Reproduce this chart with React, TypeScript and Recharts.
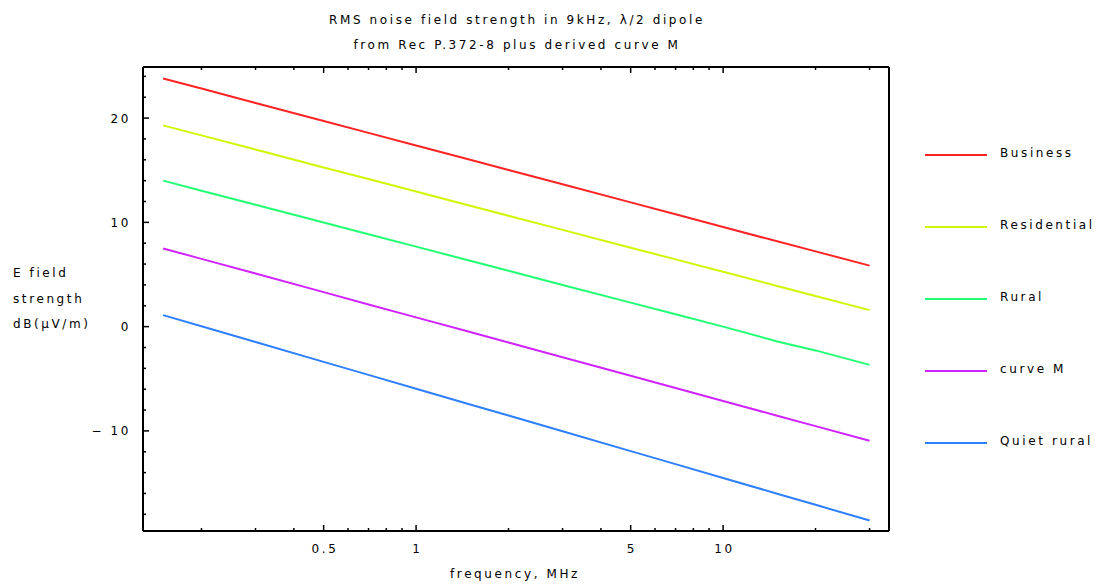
import React from "react";
import { LineChart, Line, XAxis, YAxis } from "recharts";

const frequencies = [0.15, 0.2, 0.3, 0.5, 0.7, 1, 1.5, 2, 3, 5, 7, 10, 15, 20, 30];
const business = [23.8, 22.83, 21.45, 19.72, 18.58, 17.37, 16.0, 15.03, 13.65, 11.92, 10.78, 9.55, 8.18, 7.22, 5.85];
const residential = [19.3, 18.34, 16.98, 15.27, 14.15, 12.96, 11.6, 10.64, 9.28, 7.57, 6.45, 5.26, 3.9, 2.94, 1.58];
const rural = [14.0, 13.04, 11.69, 9.98, 8.86, 7.67, 6.32, 5.36, 4.0, 2.3, 1.18, 0.0, -1.42, -2.28, -3.67];
const curveM = [7.5, 6.5, 5.09, 3.31, 2.13, 0.89, -0.52, -1.52, -2.93, -4.71, -5.89, -7.13, -8.54, -9.54, -10.95];
const quietRural = [1.1, 0.03, -1.48, -3.38, -4.63, -5.95, -7.46, -8.53, -10.04, -11.94, -13.19, -14.51, -16.02, -17.09, -18.6];

const xTicks = [0.2, 0.3, 0.4, 0.5, 0.6, 0.7, 0.8, 0.9, 1, 2, 3, 4, 5, 6, 7, 8, 9, 10, 20, 30];
const xMajor = [0.5, 1, 5, 10];
const yTicks = [-18, -16, -14, -12, -10, -8, -6, -4, -2, 0, 2, 4, 6, 8, 10, 12, 14, 16, 18, 20, 22, 24];
const yMajor = [-10, 0, 10, 20];

const seriesDefs = [
  { key: "business", name: "Business", color: "#ff2424", values: business },
  { key: "residential", name: "Residential", color: "#d2f500", values: residential },
  { key: "rural", name: "Rural", color: "#22ff74", values: rural },
  { key: "curveM", name: "curve M", color: "#d024ff", values: curveM },
  { key: "quietRural", name: "Quiet rural", color: "#2f80ff", values: quietRural },
];

const data = frequencies.map((f, i) => {
  const row: any = { f };
  seriesDefs.forEach((s) => (row[s.key] = s.values[i]));
  return row;
});

const FONT = "'DejaVu Sans', sans-serif";
const LS = 2.6;
const textStyle: React.CSSProperties = { fontFamily: FONT, fontSize: 12, letterSpacing: LS, color: "#000" };

const BottomTick = (props: any) => {
  const { x, y, payload } = props;
  const major = xMajor.includes(payload.value);
  return (
    <g>
      <line x1={x} x2={x} y1={y} y2={y - (major ? 6 : 3)} stroke="#000" strokeWidth={1.5} />
      {major && (
        <text x={x + LS / 2} y={y + 22} textAnchor="middle" fontFamily={FONT} fontSize={12} letterSpacing={LS} fill="#000">
          {String(payload.value)}
        </text>
      )}
    </g>
  );
};

const TopTick = (props: any) => {
  const { x, y, payload } = props;
  const major = xMajor.includes(payload.value);
  return <line x1={x} x2={x} y1={y} y2={y + (major ? 6 : 3)} stroke="#000" strokeWidth={1.5} />;
};

const LeftTick = (props: any) => {
  const { x, y, payload } = props;
  const major = yMajor.includes(payload.value);
  const v = payload.value;
  return (
    <g>
      <line x1={x} x2={x + (major ? 6 : 3)} y1={y} y2={y} stroke="#000" strokeWidth={1.5} />
      {major && (
        <text x={x - 12} y={y + 4.5} textAnchor="end" fontFamily={FONT} fontSize={12} letterSpacing={LS} fill="#000">
          {v < 0 ? "\u2212 " + Math.abs(v) : String(v)}
        </text>
      )}
    </g>
  );
};

export default function App() {
  return (
    <div style={{ position: "absolute", left: 0, top: 0, width: 1103, height: 586, background: "#fff" }}>
      <LineChart width={1103} height={586} data={data} margin={{ top: 57, right: 204, bottom: 25, left: 103 }}>
        <XAxis
          xAxisId="bottom"
          dataKey="f"
          type="number"
          scale="log"
          domain={[0.129, 34.7]}
          allowDataOverflow
          ticks={xTicks}
          interval={0}
          height={30}
          tickSize={0}
          tickMargin={0}
          tickLine={false}
          axisLine={{ stroke: "#000", strokeWidth: 2 }}
          tick={<BottomTick />}
        />
        <XAxis
          xAxisId="top"
          orientation="top"
          dataKey="f"
          type="number"
          scale="log"
          domain={[0.129, 34.7]}
          allowDataOverflow
          ticks={xTicks}
          interval={0}
          height={10}
          tickSize={0}
          tickMargin={0}
          tickLine={false}
          axisLine={{ stroke: "#000", strokeWidth: 2 }}
          tick={<TopTick />}
        />
        <YAxis
          yAxisId="left"
          type="number"
          domain={[-19.6, 24.9]}
          allowDataOverflow
          ticks={yTicks}
          interval={0}
          width={40}
          tickSize={0}
          tickMargin={0}
          tickLine={false}
          axisLine={{ stroke: "#000", strokeWidth: 2 }}
          tick={<LeftTick />}
        />
        <YAxis
          yAxisId="right"
          orientation="right"
          type="number"
          domain={[-19.6, 24.9]}
          allowDataOverflow
          width={10}
          tick={false}
          tickLine={false}
          axisLine={{ stroke: "#000", strokeWidth: 2 }}
        />
        {seriesDefs.map((s) => (
          <Line
            key={s.key}
            xAxisId="bottom"
            yAxisId="left"
            dataKey={s.key}
            name={s.name}
            stroke={s.color}
            strokeWidth={2}
            dot={false}
            type="linear"
            isAnimationActive={false}
          />
        ))}
      </LineChart>
      <div style={{ position: "absolute", left: 925, top: 145, width: 180, height: 320 }}>
        {seriesDefs.map((s, i) => (
          <div key={s.key} style={{ position: "absolute", left: 0, top: i * 72, height: 20, width: 180 }}>
            <div style={{ position: "absolute", left: 0, top: 9, width: 62, height: 2, background: s.color }} />
            <div style={{ ...textStyle, position: "absolute", left: 75, top: 1, whiteSpace: "nowrap" }}>{s.name}</div>
          </div>
        ))}
      </div>
      <div style={{ ...textStyle, position: "absolute", left: 0, width: 1034, top: 8, textAlign: "center", lineHeight: "25px" }}>
        RMS noise field strength in 9kHz, λ/2 dipole
        <br />
        from Rec P.372-8 plus derived curve M
      </div>
      <div style={{ ...textStyle, position: "absolute", left: 13, top: 261, lineHeight: "25.5px" }}>
        E field
        <br />
        strength
        <br />
        dB(μV/m)
      </div>
      <div style={{ ...textStyle, position: "absolute", left: 0, width: 1030, top: 567, textAlign: "center" }}>
        frequency, MHz
      </div>
    </div>
  );
}
